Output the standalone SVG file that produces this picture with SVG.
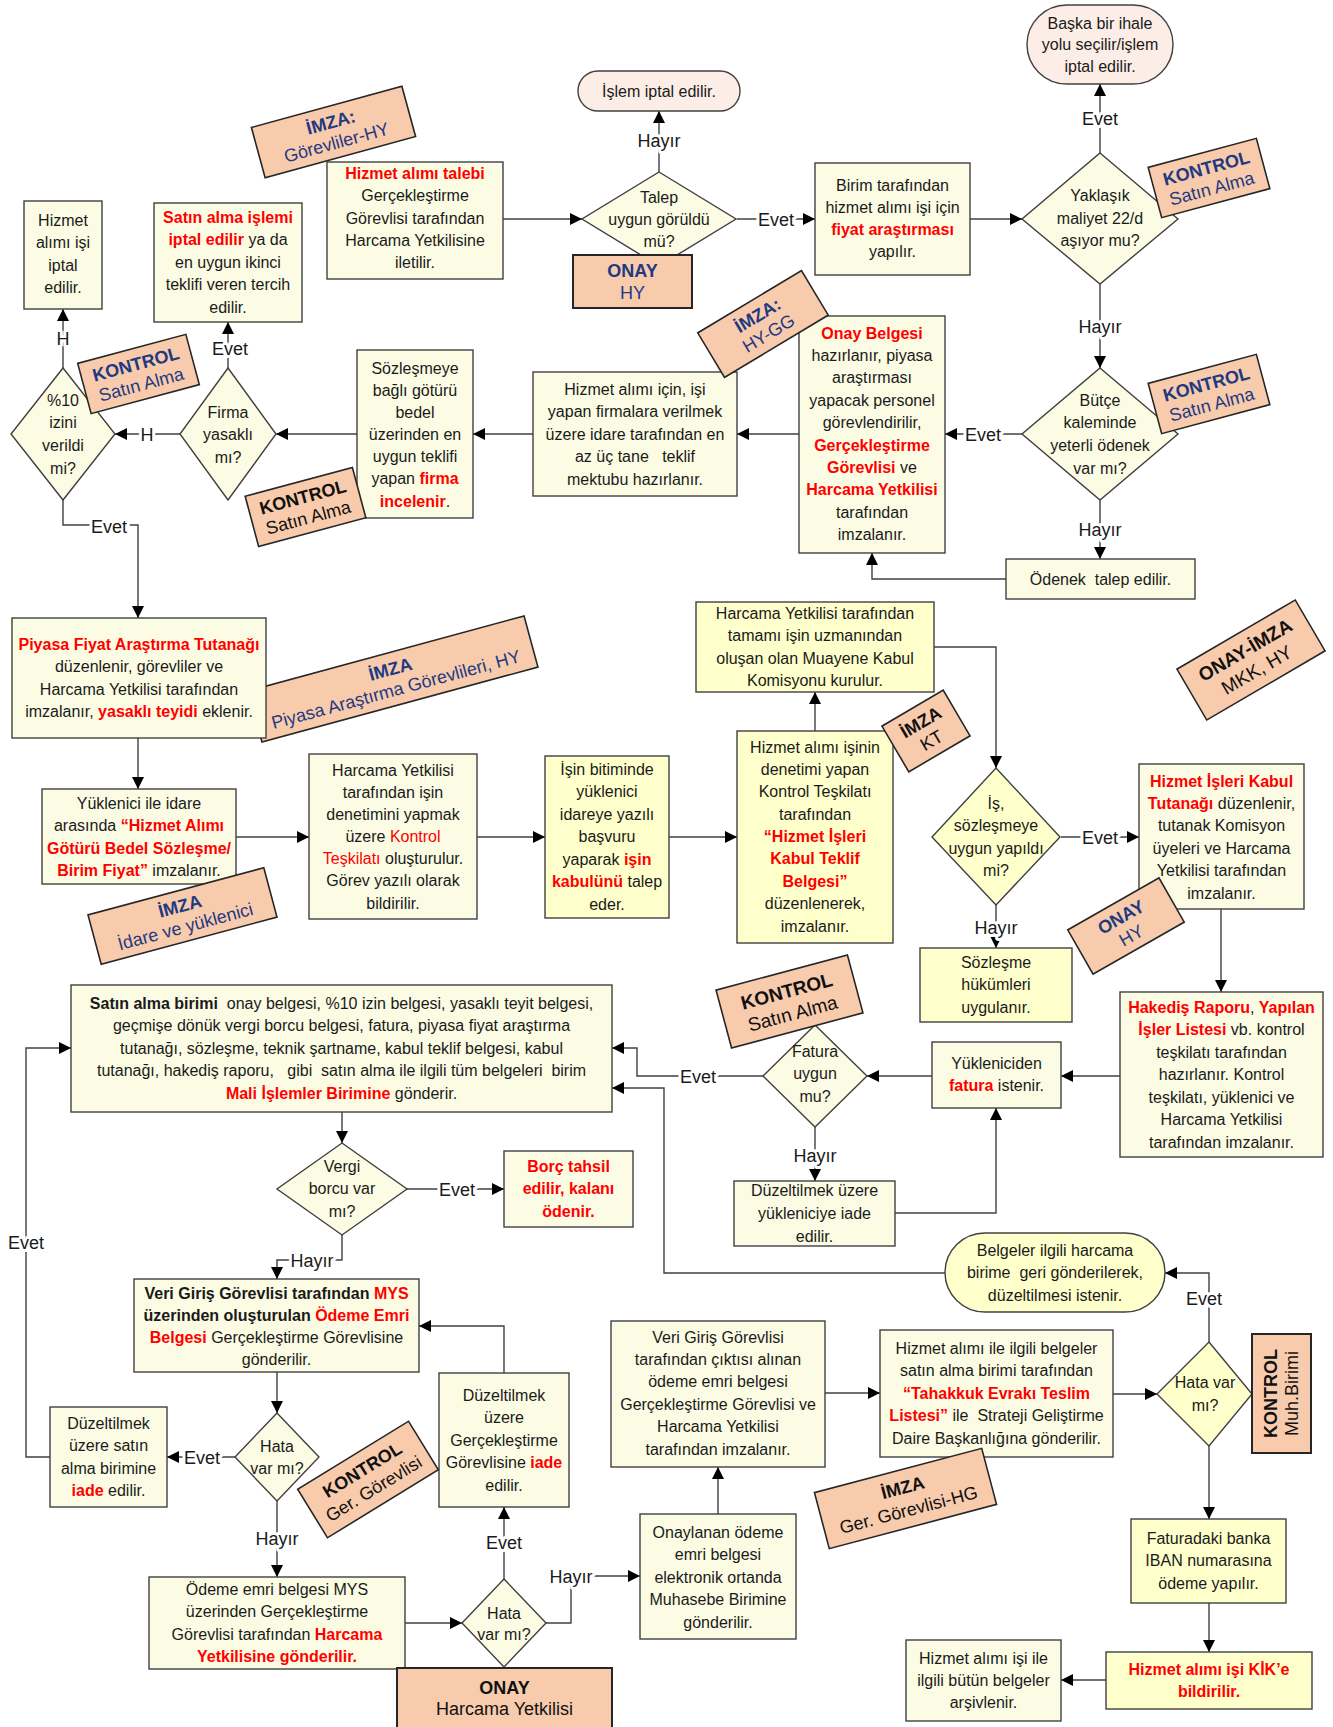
<svg xmlns="http://www.w3.org/2000/svg" width="1333" height="1727" viewBox="0 0 1333 1727">
<defs>
<style>
text{font-family:"Liberation Sans",Arial,sans-serif}
.t{font-size:16px;fill:#1a1a1a;text-anchor:middle}
.r{fill:#ff0000;font-weight:bold}
.rn{fill:#ff0000}
.bd{font-weight:bold}
.b{fill:#FBFCE3;stroke:#404040;stroke-width:1.4}
.y{fill:#FFFFCC;stroke:#404040;stroke-width:1.4}
.tp{fill:#FCEEE6;stroke:#404040;stroke-width:1.4}
.pc{fill:#F8CBAD;stroke:#262626;stroke-width:1.6}
.bt{font-size:18px;text-anchor:middle;fill:#1F3A80}
.bk{fill:#111}
.c path{fill:none;stroke:#404040;stroke-width:1.4;marker-end:url(#ah)}
.lb{font-size:18px;fill:#1a1a1a;text-anchor:middle;paint-order:stroke;stroke:#fff;stroke-width:6px;stroke-linejoin:round}
</style>
<marker id="ah" viewBox="0 0 12 12" refX="12" refY="6" markerWidth="12" markerHeight="12" markerUnits="userSpaceOnUse" orient="auto"><path d="M0,0 L12,6 L0,12 z" fill="#000"/></marker>
</defs>
<rect width="1333" height="1727" fill="#fff"/>

<g id="connectors" class="c">
<path d="M503,219H582"/>
<path d="M659,172V111"/>
<path d="M737,219H815"/>
<path d="M970,219H1022"/>
<path d="M1100,153V84"/>
<path d="M1100,284V368"/>
<path d="M1022,434H945"/>
<path d="M1100,500V559"/>
<path d="M1006,579H872V553"/>
<path d="M799,434H737"/>
<path d="M533,434H473"/>
<path d="M357,434H276"/>
<path d="M180,434H115"/>
<path d="M228,368V322"/>
<path d="M63,368V309"/>
<path d="M63,500V525H138V618"/>
<path d="M138,738V789"/>
<path d="M236,837H309"/>
<path d="M477,837H545"/>
<path d="M669,837H737"/>
<path d="M815,731V692"/>
<path d="M934,647H996V768"/>
<path d="M1061,837H1139"/>
<path d="M996,905V948"/>
<path d="M1221,909V992"/>
<path d="M1120,1076H1061"/>
<path d="M932,1076H867"/>
<path d="M763,1076H637V1048H612"/>
<path d="M815,1127V1181"/>
<path d="M895,1213H996V1108"/>
<path d="M945,1273H664V1088H612"/>
<path d="M1209,1342V1273H1165"/>
<path d="M342,1112V1143"/>
<path d="M407,1189H504"/>
<path d="M342,1235V1260H277V1279"/>
<path d="M277,1372V1413"/>
<path d="M235,1457H167"/>
<path d="M50,1457H26V1048H71"/>
<path d="M277,1501V1577"/>
<path d="M405,1623H462"/>
<path d="M504,1579V1507"/>
<path d="M504,1373V1326H419"/>
<path d="M546,1623H571V1576H640"/>
<path d="M718,1514V1467"/>
<path d="M825,1393H880"/>
<path d="M1113,1394H1157"/>
<path d="M1209,1446V1519"/>
<path d="M1209,1603V1652"/>
<path d="M1106,1680H1061"/>
</g>

<g id="connector-labels">
<text class="lb" x="659" y="146.5">Hayır</text>
<text class="lb" x="776" y="225.5">Evet</text>
<text class="lb" x="1100" y="124.5">Evet</text>
<text class="lb" x="1100" y="332.5">Hayır</text>
<text class="lb" x="983" y="440.5">Evet</text>
<text class="lb" x="1100" y="535.5">Hayır</text>
<text class="lb" x="147" y="440.5">H</text>
<text class="lb" x="230" y="354.5">Evet</text>
<text class="lb" x="63" y="344.5">H</text>
<text class="lb" x="109" y="532.5">Evet</text>
<text class="lb" x="1100" y="843.5">Evet</text>
<text class="lb" x="996" y="933.5">Hayır</text>
<text class="lb" x="698" y="1082.5">Evet</text>
<text class="lb" x="815" y="1161.5">Hayır</text>
<text class="lb" x="1204" y="1304.5">Evet</text>
<text class="lb" x="457" y="1195.5">Evet</text>
<text class="lb" x="312" y="1266.5">Hayır</text>
<text class="lb" x="202" y="1463.5">Evet</text>
<text class="lb" x="26" y="1248.5">Evet</text>
<text class="lb" x="277" y="1544.5">Hayır</text>
<text class="lb" x="504" y="1548.5">Evet</text>
<text class="lb" x="571" y="1582.5">Hayır</text>
</g>

<g id="n_talebi"><rect class="b" x="327" y="162" width="176" height="117"/>
<text class="t"><tspan x="415" y="178.8" class="r">Hizmet alımı talebi</tspan><tspan x="415" y="201.2">Gerçekleştirme</tspan><tspan x="415" y="223.6">Görevlisi tarafından</tspan><tspan x="415" y="246">Harcama Yetkilisine</tspan><tspan x="415" y="268.4">iletilir.</tspan></text></g>

<g id="n_iptal1"><rect class="tp" x="578" y="71" width="162" height="40" rx="20"/>
<text class="t" x="659" y="96.5">İşlem iptal edilir.</text></g>

<g id="d_talep"><polygon class="b" points="659,172 736,219 659,266 582,219"/>
<text class="t"><tspan x="659" y="202.5">Talep</tspan><tspan x="659" y="224.5">uygun görüldü</tspan><tspan x="659" y="246.5">mü?</tspan></text></g>

<g id="b_onay_hy"><rect class="pc" x="573" y="255" width="119" height="53" style="stroke-width:2"/>
<text class="bt"><tspan x="632.5" y="276.5" class="bd">ONAY</tspan><tspan x="632.5" y="298.5">HY</tspan></text></g>

<g id="n_birim"><rect class="b" x="815" y="163" width="155" height="112"/>
<text class="t"><tspan x="892.5" y="190.5">Birim tarafından</tspan><tspan x="892.5" y="212.8">hizmet alımı işi için</tspan><tspan x="892.5" y="235.1" class="r">fiyat araştırması</tspan><tspan x="892.5" y="257.4">yapılır.</tspan></text></g>

<g id="n_baska"><rect class="tp" x="1027" y="5" width="146" height="79" rx="40"/>
<text class="t"><tspan x="1100" y="28.5">Başka bir ihale</tspan><tspan x="1100" y="50">yolu seçilir/işlem</tspan><tspan x="1100" y="71.5">iptal edilir.</tspan></text></g>

<g id="d_yaklasik"><polygon class="b" points="1100,153 1178,219 1100,284 1022,219"/>
<text class="t"><tspan x="1100" y="200.5">Yaklaşık</tspan><tspan x="1100" y="223.5">maliyet 22/d</tspan><tspan x="1100" y="245.5">aşıyor mu?</tspan></text></g>

<g id="d_butce"><polygon class="b" points="1100,368 1178,434 1100,500 1022,434"/>
<text class="t"><tspan x="1100" y="405.5">Bütçe</tspan><tspan x="1100" y="427.5">kaleminde</tspan><tspan x="1100" y="450.5">yeterli ödenek</tspan><tspan x="1100" y="473.5">var mı?</tspan></text></g>

<g id="n_odenek"><rect class="b" x="1006" y="559" width="189" height="40"/>
<text class="t" x="1100.5" y="584.5" xml:space="preserve">Ödenek  talep edilir.</text></g>

<g id="n_onaybelgesi"><rect class="b" x="799" y="316" width="146" height="237"/>
<text class="t"><tspan x="872" y="338.5" class="r">Onay Belgesi</tspan><tspan x="872" y="360.9">hazırlanır, piyasa</tspan><tspan x="872" y="383.3">araştırması</tspan><tspan x="872" y="405.7">yapacak personel</tspan><tspan x="872" y="428.1">görevlendirilir,</tspan><tspan x="872" y="450.5" class="r">Gerçekleştirme</tspan><tspan x="872" y="472.9"><tspan class="r">Görevlisi</tspan>  ve</tspan><tspan x="872" y="495.3" class="r">Harcama Yetkilisi</tspan><tspan x="872" y="517.7">tarafından</tspan><tspan x="872" y="540.1">imzalanır.</tspan></text></g>

<g id="n_teklif"><rect class="b" x="533" y="372" width="204" height="124"/>
<text class="t" xml:space="preserve"><tspan x="635" y="394.5">Hizmet alımı için, işi</tspan><tspan x="635" y="417">yapan firmalara verilmek</tspan><tspan x="635" y="439.5">üzere idare tarafından en</tspan><tspan x="635" y="462">az üç tane   teklif</tspan><tspan x="635" y="484.5">mektubu hazırlanır.</tspan></text></g>

<g id="n_sozlesmeye"><rect class="b" x="357" y="350" width="116" height="168"/>
<text class="t"><tspan x="415" y="373.5">Sözleşmeye</tspan><tspan x="415" y="395.7">bağlı götürü</tspan><tspan x="415" y="417.8">bedel</tspan><tspan x="415" y="440">üzerinden en</tspan><tspan x="415" y="462.2">uygun teklifi</tspan><tspan x="415" y="484.3">yapan <tspan class="r">firma</tspan></tspan><tspan x="415" y="506.5"><tspan class="r">incelenir</tspan>.</tspan></text></g>

<g id="d_firma"><polygon class="b" points="228,368 276,434 228,500 180,434"/>
<text class="t"><tspan x="228" y="417.5">Firma</tspan><tspan x="228" y="439.5">yasaklı</tspan><tspan x="228" y="462.5">mı?</tspan></text></g>

<g id="n_satin_iptal"><rect class="b" x="154" y="203" width="148" height="119"/>
<text class="t"><tspan x="228" y="222.5" class="r">Satın alma işlemi</tspan><tspan x="228" y="245"><tspan class="r">iptal edilir</tspan> ya da</tspan><tspan x="228" y="267.5">en uygun ikinci</tspan><tspan x="228" y="290">teklifi veren tercih</tspan><tspan x="228" y="312.5">edilir.</tspan></text></g>

<g id="d_10"><polygon class="b" points="63,368 115,434 63,500 11,434"/>
<text class="t"><tspan x="63" y="405.5">%10</tspan><tspan x="63" y="427.5">izini</tspan><tspan x="63" y="450.5">verildi</tspan><tspan x="63" y="473.5">mi?</tspan></text></g>

<g id="n_hizmet_iptal"><rect class="b" x="24" y="201" width="78" height="108"/>
<text class="t"><tspan x="63" y="225.5">Hizmet</tspan><tspan x="63" y="248">alımı işi</tspan><tspan x="63" y="270.5">iptal</tspan><tspan x="63" y="293">edilir.</tspan></text></g>

<g id="b_imza_piyasa" transform="translate(393,679) rotate(-15.2)"><rect class="pc" x="-143" y="-26.5" width="286" height="53"/>
<text class="bt"><tspan x="0" y="-4" class="bd">İMZA</tspan><tspan x="0" y="17">Piyasa Araştırma Görevlileri, HY</tspan></text></g>

<g id="n_piyasa"><rect class="b" x="12" y="618" width="254" height="120"/>
<text class="t"><tspan x="139" y="649.5" class="r">Piyasa Fiyat Araştırma Tutanağı</tspan><tspan x="139" y="672">düzenlenir, görevliler ve</tspan><tspan x="139" y="694.5">Harcama Yetkilisi tarafından</tspan><tspan x="139" y="717">imzalanır, <tspan class="r">yasaklı teyidi</tspan> eklenir.</tspan></text></g>

<g id="n_yuklenici"><rect class="b" x="42" y="789" width="194" height="95"/>
<text class="t"><tspan x="139" y="808.5">Yüklenici ile idare</tspan><tspan x="139" y="831">arasında <tspan class="r">“Hizmet Alımı</tspan></tspan><tspan x="139" y="853.5" class="r">Götürü Bedel Sözleşme/</tspan><tspan x="139" y="876"><tspan class="r">Birim Fiyat”</tspan> imzalanır.</tspan></text></g>

<g id="n_kontrol_tesk"><rect class="b" x="309" y="754" width="168" height="165"/>
<text class="t"><tspan x="393" y="775.5">Harcama Yetkilisi</tspan><tspan x="393" y="797.7">tarafından işin</tspan><tspan x="393" y="819.8">denetimini yapmak</tspan><tspan x="393" y="842">üzere <tspan class="rn">Kontrol</tspan></tspan><tspan x="393" y="864.2"><tspan class="rn">Teşkilatı</tspan> oluşturulur.</tspan><tspan x="393" y="886.3">Görev yazılı olarak</tspan><tspan x="393" y="908.5">bildirilir.</tspan></text></g>

<g id="n_isin"><rect class="y" x="545" y="756" width="124" height="162"/>
<text class="t"><tspan x="607" y="774.5">İşin bitiminde</tspan><tspan x="607" y="797">yüklenici</tspan><tspan x="607" y="819.5">idareye yazılı</tspan><tspan x="607" y="842">başvuru</tspan><tspan x="607" y="864.5">yaparak <tspan class="r">işin</tspan></tspan><tspan x="607" y="887"><tspan class="r">kabulünü</tspan> talep</tspan><tspan x="607" y="909.5">eder.</tspan></text></g>

<g id="n_kabul_teklif"><rect class="y" x="737" y="731" width="156" height="212"/>
<text class="t"><tspan x="815" y="752.5">Hizmet alımı işinin</tspan><tspan x="815" y="774.9">denetimi yapan</tspan><tspan x="815" y="797.3">Kontrol Teşkilatı</tspan><tspan x="815" y="819.6">tarafından</tspan><tspan x="815" y="842" class="r">“Hizmet İşleri</tspan><tspan x="815" y="864.4" class="r">Kabul Teklif</tspan><tspan x="815" y="886.8" class="r">Belgesi”</tspan><tspan x="815" y="909.1">düzenlenerek,</tspan><tspan x="815" y="931.5">imzalanır.</tspan></text></g>

<g id="n_muayene"><rect class="y" x="696" y="602" width="238" height="90"/>
<text class="t"><tspan x="815" y="618.5">Harcama Yetkilisi tarafından</tspan><tspan x="815" y="641">tamamı işin uzmanından</tspan><tspan x="815" y="663.5">oluşan olan Muayene Kabul</tspan><tspan x="815" y="686">Komisyonu kurulur.</tspan></text></g>

<g id="d_is"><polygon class="y" points="996,768 1060,837 996,905 932,837"/>
<text class="t"><tspan x="996" y="808.5">İş,</tspan><tspan x="996" y="831">sözleşmeye</tspan><tspan x="996" y="853.5">uygun yapıldı</tspan><tspan x="996" y="876">mi?</tspan></text></g>

<g id="n_kabul_tutanak"><rect class="b" x="1139" y="764" width="165" height="145"/>
<text class="t"><tspan x="1221.5" y="786.5" class="r">Hizmet İşleri Kabul</tspan><tspan x="1221.5" y="808.9"><tspan class="r">Tutanağı</tspan> düzenlenir,</tspan><tspan x="1221.5" y="831.3">tutanak Komisyon</tspan><tspan x="1221.5" y="853.7">üyeleri ve Harcama</tspan><tspan x="1221.5" y="876.1">Yetkilisi tarafından</tspan><tspan x="1221.5" y="898.5">imzalanır.</tspan></text></g>

<g id="n_sozlesme_hukum"><rect class="y" x="920" y="948" width="152" height="74"/>
<text class="t"><tspan x="996" y="967.5">Sözleşme</tspan><tspan x="996" y="990">hükümleri</tspan><tspan x="996" y="1012.5">uygulanır.</tspan></text></g>

<g id="n_hakedis"><rect class="b" x="1120" y="992" width="203" height="165"/>
<text class="t"><tspan x="1221.5" y="1012.5"><tspan class="r">Hakediş Raporu</tspan>, <tspan class="r">Yapılan</tspan></tspan><tspan x="1221.5" y="1035"><tspan class="r">İşler Listesi</tspan> vb. kontrol</tspan><tspan x="1221.5" y="1057.5">teşkilatı tarafından</tspan><tspan x="1221.5" y="1080">hazırlanır. Kontrol</tspan><tspan x="1221.5" y="1102.5">teşkilatı, yüklenici ve</tspan><tspan x="1221.5" y="1125">Harcama Yetkilisi</tspan><tspan x="1221.5" y="1147.5">tarafından imzalanır.</tspan></text></g>

<g id="n_fatura_iste"><rect class="b" x="932" y="1042" width="129" height="66"/>
<text class="t"><tspan x="996.5" y="1068.5">Yükleniciden</tspan><tspan x="996.5" y="1091"><tspan class="r">fatura</tspan> istenir.</tspan></text></g>

<g id="d_fatura"><polygon class="b" points="815,1025 867,1076 815,1127 763,1076"/>
<text class="t"><tspan x="815" y="1056.5">Fatura</tspan><tspan x="815" y="1079">uygun</tspan><tspan x="815" y="1101.5">mu?</tspan></text></g>

<g id="n_duz_yuk"><rect class="b" x="734" y="1181" width="161" height="65"/>
<text class="t"><tspan x="814.5" y="1195.5">Düzeltilmek üzere</tspan><tspan x="814.5" y="1218.5">yükleniciye iade</tspan><tspan x="814.5" y="1241.5">edilir.</tspan></text></g>

<g id="n_satin_birimi"><rect class="b" x="71" y="985" width="541" height="127"/>
<text class="t" xml:space="preserve"><tspan x="341.5" y="1008.5"><tspan class="bd">Satın alma birimi</tspan>  onay belgesi, %10 izin belgesi, yasaklı teyit belgesi,</tspan><tspan x="341.5" y="1031">geçmişe dönük vergi borcu belgesi, fatura, piyasa fiyat araştırma</tspan><tspan x="341.5" y="1053.5">tutanağı, sözleşme, teknik şartname, kabul teklif belgesi, kabul</tspan><tspan x="341.5" y="1076">tutanağı, hakediş raporu,   gibi  satın alma ile ilgili tüm belgeleri  birim</tspan><tspan x="341.5" y="1098.5"><tspan class="r">Mali İşlemler Birimine</tspan> gönderir.</tspan></text></g>

<g id="d_vergi"><polygon class="b" points="342,1143 407,1189 342,1235 277,1189"/>
<text class="t"><tspan x="342" y="1171.5">Vergi</tspan><tspan x="342" y="1194">borcu var</tspan><tspan x="342" y="1216.5">mı?</tspan></text></g>

<g id="n_borc"><rect class="b" x="504" y="1151" width="129" height="76"/>
<text class="t"><tspan x="568.5" y="1171.5" class="r">Borç tahsil</tspan><tspan x="568.5" y="1194" class="r">edilir, kalanı</tspan><tspan x="568.5" y="1216.5" class="r">ödenir.</tspan></text></g>

<g id="n_belgeler"><rect class="y" x="945" y="1233" width="220" height="79" rx="40"/>
<text class="t" xml:space="preserve"><tspan x="1055" y="1255.5">Belgeler ilgili harcama</tspan><tspan x="1055" y="1278">birime  geri gönderilerek,</tspan><tspan x="1055" y="1300.5">düzeltilmesi istenir.</tspan></text></g>

<g id="n_veri_giris"><rect class="b" x="134" y="1279" width="285" height="93"/>
<text class="t"><tspan x="276.5" y="1298.5" class="bd">Veri Giriş Görevlisi tarafından <tspan class="r">MYS</tspan></tspan><tspan x="276.5" y="1320.5" class="bd">üzerinden oluşturulan <tspan class="r">Ödeme Emri</tspan></tspan><tspan x="276.5" y="1342.5"><tspan class="r">Belgesi</tspan> Gerçekleştirme Görevlisine</tspan><tspan x="276.5" y="1364.5">gönderilir.</tspan></text></g>

<g id="d_hata1"><polygon class="b" points="277,1413 319,1457 277,1501 235,1457"/>
<text class="t"><tspan x="277" y="1451.5">Hata</tspan><tspan x="277" y="1473.5">var mı?</tspan></text></g>

<g id="n_duz_satin"><rect class="b" x="50" y="1407" width="117" height="100"/>
<text class="t"><tspan x="108.5" y="1428.5">Düzeltilmek</tspan><tspan x="108.5" y="1451">üzere satın</tspan><tspan x="108.5" y="1473.5">alma birimine</tspan><tspan x="108.5" y="1496"><tspan class="r">iade</tspan> edilir.</tspan></text></g>

<g id="n_odeme"><rect class="b" x="149" y="1577" width="256" height="92"/>
<text class="t"><tspan x="277" y="1594.5">Ödeme emri belgesi MYS</tspan><tspan x="277" y="1617">üzerinden Gerçekleştirme</tspan><tspan x="277" y="1639.5">Görevlisi tarafından <tspan class="r">Harcama</tspan></tspan><tspan x="277" y="1662" class="r">Yetkilisine gönderilir.</tspan></text></g>

<g id="d_hata2"><polygon class="b" points="504,1579 546,1623 504,1667 462,1623"/>
<text class="t"><tspan x="504" y="1618.5">Hata</tspan><tspan x="504" y="1639.5">var mı?</tspan></text></g>

<g id="b_onay_hy3"><rect class="pc" x="397" y="1668" width="215" height="80" style="stroke-width:2"/>
<text class="bt bk"><tspan x="504.5" y="1693.5" class="bd">ONAY</tspan><tspan x="504.5" y="1714.5">Harcama Yetkilisi</tspan></text></g>

<g id="n_duz_ger"><rect class="b" x="439" y="1373" width="130" height="134"/>
<text class="t"><tspan x="504" y="1400.5">Düzeltilmek</tspan><tspan x="504" y="1423">üzere</tspan><tspan x="504" y="1445.5">Gerçekleştirme</tspan><tspan x="504" y="1468">Görevlisine <tspan class="r">iade</tspan></tspan><tspan x="504" y="1490.5">edilir.</tspan></text></g>

<g id="n_onaylanan"><rect class="b" x="640" y="1514" width="156" height="125"/>
<text class="t"><tspan x="718" y="1537.5">Onaylanan ödeme</tspan><tspan x="718" y="1560">emri belgesi</tspan><tspan x="718" y="1582.5">elektronik ortanda</tspan><tspan x="718" y="1605">Muhasebe Birimine</tspan><tspan x="718" y="1627.5">gönderilir.</tspan></text></g>

<g id="n_veri_cikti"><rect class="b" x="611" y="1321" width="214" height="146"/>
<text class="t"><tspan x="718" y="1342.5">Veri Giriş Görevlisi</tspan><tspan x="718" y="1364.9">tarafından çıktısı alınan</tspan><tspan x="718" y="1387.3">ödeme emri belgesi</tspan><tspan x="718" y="1409.7">Gerçekleştirme Görevlisi ve</tspan><tspan x="718" y="1432.1">Harcama Yetkilisi</tspan><tspan x="718" y="1454.5">tarafından imzalanır.</tspan></text></g>

<g id="n_tahakkuk"><rect class="b" x="880" y="1330" width="233" height="127"/>
<text class="t" xml:space="preserve"><tspan x="996.5" y="1353.5">Hizmet alımı ile ilgili belgeler</tspan><tspan x="996.5" y="1376">satın alma birimi tarafından</tspan><tspan x="996.5" y="1398.5" class="r">“Tahakkuk Evrakı Teslim</tspan><tspan x="996.5" y="1421"><tspan class="r">Listesi”</tspan> ile  Strateji Geliştirme</tspan><tspan x="996.5" y="1443.5">Daire Başkanlığına gönderilir.</tspan></text></g>

<g id="d_hata3"><polygon class="y" points="1209,1342 1252,1394 1209,1446 1157,1394"/>
<text class="t"><tspan x="1205" y="1387.5">Hata var</tspan><tspan x="1205" y="1410.5">mı?</tspan></text></g>

<g id="n_iban"><rect class="y" x="1131" y="1519" width="155" height="84"/>
<text class="t"><tspan x="1208.5" y="1543.5">Faturadaki banka</tspan><tspan x="1208.5" y="1566">IBAN numarasına</tspan><tspan x="1208.5" y="1588.5">ödeme yapılır.</tspan></text></g>

<g id="n_kik"><rect class="y" x="1106" y="1652" width="206" height="57"/>
<text class="t"><tspan x="1209" y="1674.5" class="r">Hizmet alımı işi KİK’e</tspan><tspan x="1209" y="1696.5" class="r">bildirilir.</tspan></text></g>

<g id="n_arsiv"><rect class="b" x="906" y="1640" width="155" height="81"/>
<text class="t"><tspan x="983.5" y="1663.5">Hizmet alımı işi ile</tspan><tspan x="983.5" y="1686">ilgili bütün belgeler</tspan><tspan x="983.5" y="1708">arşivlenir.</tspan></text></g>

<g id="badges">
<g id="b_imza_hy" transform="translate(333.5,132) rotate(-15.3)"><rect class="pc" x="-78" y="-26" width="156" height="52"/>
<text class="bt"><tspan x="0" y="-4" class="bd">İMZA:</tspan><tspan x="0" y="17">Görevliler-HY</tspan></text></g>
<g id="b_imza_hygg" transform="translate(763,324) rotate(-31)"><rect class="pc" x="-60.5" y="-26" width="121" height="52"/>
<text class="bt"><tspan x="0" y="-4" class="bd">İMZA:</tspan><tspan x="0" y="17">HY-GG</tspan></text></g>
<g id="b_kontrol1" transform="translate(1209,178) rotate(-15)"><rect class="pc" x="-56" y="-26" width="112" height="52"/>
<text class="bt"><tspan x="0" y="-4" class="bd">KONTROL</tspan><tspan x="0" y="17">Satın Alma</tspan></text></g>
<g id="b_kontrol2" transform="translate(1209,394) rotate(-15)"><rect class="pc" x="-56" y="-26" width="112" height="52"/>
<text class="bt"><tspan x="0" y="-4" class="bd">KONTROL</tspan><tspan x="0" y="17">Satın Alma</tspan></text></g>
<g id="b_kontrol4" transform="translate(138.5,374) rotate(-15)"><rect class="pc" x="-56" y="-26" width="112" height="52"/>
<text class="bt"><tspan x="0" y="-4" class="bd">KONTROL</tspan><tspan x="0" y="17">Satın Alma</tspan></text></g>
<g id="b_kontrol3" transform="translate(305.5,507) rotate(-15)"><rect class="pc" x="-55.5" y="-26" width="111" height="52"/>
<text class="bt bk"><tspan x="0" y="-4" class="bd">KONTROL</tspan><tspan x="0" y="17">Satın Alma</tspan></text></g>
<g id="b_imza_idare" transform="translate(182.5,916) rotate(-15)"><rect class="pc" x="-91" y="-25.5" width="182" height="51"/>
<text class="bt"><tspan x="0" y="-4" class="bd">İMZA</tspan><tspan x="0" y="17">İdare ve yüklenici</tspan></text></g>
<g id="b_imza_kt" transform="translate(926,731) rotate(-30.4)"><rect class="pc" x="-35.5" y="-26.5" width="71" height="53"/>
<text class="bt bk"><tspan x="0" y="-4" class="bd">İMZA</tspan><tspan x="0" y="17">KT</tspan></text></g>
<g id="b_onay_imza_mkk" transform="translate(1251,660) rotate(-30.3)"><rect class="pc" x="-68.5" y="-29.5" width="137" height="59"/>
<text class="bt bk" style="font-size:19px"><tspan x="0" y="-5" class="bd">ONAY-İMZA</tspan><tspan x="0" y="18">MKK, HY</tspan></text></g>
<g id="b_onay_hy2" transform="translate(1126,926) rotate(-29.7)"><rect class="pc" x="-52.5" y="-25.5" width="105" height="51"/>
<text class="bt"><tspan x="0" y="-4" class="bd">ONAY</tspan><tspan x="0" y="17">HY</tspan></text></g>
<g id="b_kontrol5" transform="translate(789.5,1001.5) rotate(-15)"><rect class="pc" x="-68" y="-30" width="136" height="60"/>
<text class="bt bk" style="font-size:19px"><tspan x="0" y="-4" class="bd">KONTROL</tspan><tspan x="0" y="19">Satın Alma</tspan></text></g>
<g id="b_kontrol_ger" transform="translate(368,1479.5) rotate(-31.5)"><rect class="pc" x="-65" y="-28.5" width="130" height="57"/>
<text class="bt bk"><tspan x="0" y="-5" class="bd">KONTROL</tspan><tspan x="0" y="17">Ger. Görevlisi</tspan></text></g>
<g id="b_imza_hg" transform="translate(905.5,1498.5) rotate(-14.8)"><rect class="pc" x="-86.5" y="-29" width="173" height="58"/>
<text class="bt bk"><tspan x="0" y="-5" class="bd">İMZA</tspan><tspan x="0" y="18">Ger. Görevlisi-HG</tspan></text></g>
<g id="b_kontrol_muh"><rect class="pc" x="1252" y="1334" width="59" height="119" style="stroke-width:2"/>
<text class="bt bk" transform="translate(1281.5,1393.5) rotate(-90)"><tspan x="0" y="-4.5" class="bd">KONTROL</tspan><tspan x="0" y="16.5">Muh.Birimi</tspan></text></g>
</g>
</svg>
